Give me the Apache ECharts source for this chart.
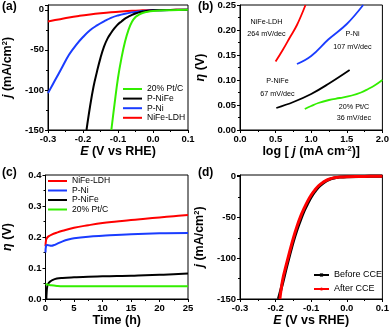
<!DOCTYPE html>
<html>
<head>
<meta charset="utf-8">
<script src="https://cdn.jsdelivr.net/npm/echarts@6/dist/echarts.min.js"></script>
<style>
  html, body { margin: 0; padding: 0; background: #fff; }
  #chart { width: 392px; height: 332px; }
</style>
</head>
<body>
<div id="chart"></div>
<script>
// (a) HER polarization curves, E (V vs RHE) / j (mA/cm2)
const ldhE = [-0.30, -0.27, -0.24, -0.21, -0.18, -0.15, -0.12, -0.09, -0.06, -0.03, 0.0, 0.05, 0.1]
const ldhJ = [-14.5, -12, -9.5, -7.5, -5.8, -4.3, -3.0, -2.0, -1.2, -0.7, -0.3, -0.1, 0]
const niE = [-0.30, -0.28, -0.26, -0.24, -0.22, -0.20, -0.18, -0.16, -0.14, -0.12, -0.10, -0.08, -0.06, -0.04, -0.02, 0.0, 0.05, 0.1]
const niJ = [-104, -88, -72, -56, -44, -34, -25.5, -19.5, -14.5, -10, -7, -4.8, -3.2, -2, -1.2, -0.7, -0.2, 0]
const nifeE = [-0.19, -0.18, -0.17, -0.16, -0.15, -0.14, -0.13, -0.12, -0.11, -0.10, -0.09, -0.08, -0.07, -0.06, -0.05, -0.04, -0.03, -0.02, 0.0, 0.05, 0.1]
const nifeJ = [-150, -121, -96, -77, -60, -46, -36, -29, -23, -18, -14.5, -11, -8.5, -6.3, -4.6, -3.2, -2.2, -1.4, -0.6, -0.1, 0]
const ptcE = [-0.119, -0.11, -0.10, -0.09, -0.08, -0.07, -0.06, -0.05, -0.04, -0.03, -0.02, 0.0, 0.05, 0.1]
const ptcJ = [-150, -118, -85, -60, -40, -25, -15, -9, -6, -4, -2.8, -1.5, -0.5, 0]

// (b) Tafel plots, log j / eta (V)
const tafLdhX = [0.5, 0.6, 0.7, 0.8, 0.92]
const tafLdhY = [0.137, 0.16, 0.185, 0.21, 0.25]
const tafNiX = [0.8, 1.0, 1.24, 1.5, 1.73]
const tafNiY = [0.132, 0.148, 0.181, 0.212, 0.25]
const tafNifeX = [0.51, 0.75, 1.0, 1.25, 1.54]
const tafNifeY = [0.044, 0.056, 0.072, 0.093, 0.12]
const tafPtcX = [0.91, 1.0, 1.1, 1.25, 1.4, 1.57, 1.7, 1.8, 1.9, 2.0]
const tafPtcY = [0.042, 0.048, 0.054, 0.06, 0.064, 0.069, 0.075, 0.082, 0.09, 0.10]
const tafNotes = [
  ['NiFe-LDH', '264 mV/dec'],
  ['P-Ni', '107 mV/dec'],
  ['P-NiFe', '67 mV/dec'],
  ['20% Pt/C', '36 mV/dec']
]

// (c) stability, time (h) / eta (V)
const stLdhT = [0, 0.1, 0.3, 0.6, 1, 2, 3, 5, 7.5, 10, 12.5, 15, 17.5, 20, 22.5, 25]
const stLdhV = [0.17, 0.19, 0.198, 0.203, 0.207, 0.214, 0.22, 0.23, 0.238, 0.245, 0.25, 0.255, 0.259, 0.263, 0.267, 0.271]
const stNiT = [0, 0.1, 0.3, 0.6, 1, 1.5, 2, 3, 4, 5, 7.5, 10, 15, 20, 25]
const stNiV = [0.15, 0.172, 0.174, 0.173, 0.172, 0.174, 0.178, 0.186, 0.192, 0.196, 0.201, 0.204, 0.209, 0.212, 0.213]
const stNifeT = [0.15, 0.2, 0.3, 0.5, 0.8, 1.2, 2, 3, 5, 7.5, 10, 12.5, 15, 17.5, 20, 22.5, 25]
const stNifeV = [0, 0.02, 0.04, 0.05, 0.056, 0.061, 0.066, 0.068, 0.07, 0.072, 0.073, 0.074, 0.075, 0.077, 0.078, 0.08, 0.082]
const stPtcT = [0, 0.5, 1, 2, 3, 5, 10, 15, 20, 25]
const stPtcV = [0.048, 0.046, 0.044, 0.042, 0.041, 0.041, 0.041, 0.041, 0.041, 0.041]

// (d) before / after CCE
const beforeE = [-0.192, -0.18, -0.17, -0.16, -0.15, -0.14, -0.13, -0.12, -0.11, -0.10, -0.09, -0.08, -0.07, -0.06, -0.05, -0.04, -0.03, -0.02, 0.0, 0.05, 0.1]
const beforeJ = [-150, -130, -112, -95, -79, -65, -53, -42, -33, -25, -18.5, -13, -9, -6, -3.8, -2.2, -1.2, -0.6, -0.1, 0.3, 0.6]
const afterE = [-0.188, -0.18, -0.17, -0.16, -0.15, -0.14, -0.13, -0.12, -0.11, -0.10, -0.09, -0.08, -0.07, -0.06, -0.05, -0.04, -0.03, -0.02, 0.0, 0.05, 0.1]
const afterJ = [-150, -126, -108, -91, -75, -61, -49, -39, -30, -22.5, -16.5, -11.5, -8, -5.2, -3.2, -1.8, -1, -0.5, -0.1, 0.3, 0.6]

const FONT = 'Liberation Sans, Arial, sans-serif'
const RED = '#ff0000'
const BLUE = '#1a3cff'
const BLACK = '#000000'
const GREEN = '#33ee00'

const zip = (xs, ys) => xs.map((x, i) => [x, ys[i]])

const nameStyle = {
  fontFamily: FONT,
  fontWeight: 'bold',
  fontSize: 12.5,
  color: '#000',
  rich: {
    n: { fontFamily: FONT, fontWeight: 'bold', fontSize: 12.5, color: '#000', lineHeight: 14 },
    i: { fontFamily: FONT, fontWeight: 'bold', fontStyle: 'italic', fontSize: 12.5, color: '#000', lineHeight: 14 },
    s: { fontFamily: FONT, fontWeight: 'bold', fontSize: 7.5, color: '#000', lineHeight: 14, verticalAlign: 'top', padding: [0, 0, 5, 0] }
  }
}

function axis (gridIndex, min, max, interval, fmt, name, nameGap) {
  return {
    type: 'value',
    gridIndex,
    min,
    max,
    interval,
    name,
    nameLocation: 'middle',
    nameGap,
    nameTextStyle: nameStyle,
    axisLine: { show: true, onZero: false, lineStyle: { color: '#000', width: 1 } },
    axisTick: { show: true, inside: false, length: 3, lineStyle: { color: '#000' } },
    minorTick: { show: true, splitNumber: 2, length: 2, lineStyle: { color: '#000' } },
    splitLine: { show: false },
    axisLabel: {
      fontFamily: FONT,
      fontWeight: 'bold',
      fontSize: 9.5,
      color: '#000',
      margin: 4,
      formatter: fmt
    }
  }
}

const jFmt = v => (Math.abs(v % 50) < 1e-6 ? String(v) : '')
const f1 = v => v.toFixed(1)
const f2 = v => v.toFixed(2)

function line (name, xi, yi, data, color, width) {
  return {
    name,
    type: 'line',
    xAxisIndex: xi,
    yAxisIndex: yi,
    data,
    smooth: 0.4,
    showSymbol: false,
    symbol: 'none',
    lineStyle: { color, width },
    itemStyle: { color },
    clip: true,
    animation: false
  }
}

const chart = echarts.init(document.getElementById('chart'), null, { renderer: 'canvas' })

const grids = [
  { left: 44, top: 5, width: 144, height: 125 },
  { left: 240, top: 5, width: 143.5, height: 125 },
  { left: 44, top: 175, width: 144, height: 124 },
  { left: 240, top: 175, width: 143.5, height: 124 }
].map(g => Object.assign({ show: true, borderColor: '#000', borderWidth: 1, backgroundColor: 'transparent' }, g))

// note centres in panel (b): [x, y of name, y of slope]
const notePos = [[266.5, 22.5, 34], [352.5, 34, 47.5], [277.5, 81.5, 94], [354, 107.5, 118.5]]
const noteTexts = []
tafNotes.forEach((n, k) => {
  const p = notePos[k]
  noteTexts.push({ type: 'text', x: p[0], y: p[1], style: { text: n[0], font: '7.2px ' + FONT, fill: '#000', textAlign: 'center', textVerticalAlign: 'middle' } })
  noteTexts.push({ type: 'text', x: p[0], y: p[2], style: { text: n[1], font: '7.2px ' + FONT, fill: '#000', textAlign: 'center', textVerticalAlign: 'middle' } })
})

const panelLabel = (t, x, y) => ({ type: 'text', x, y, style: { text: t, font: 'bold 12px ' + FONT, fill: '#000', textVerticalAlign: 'middle' } })

chart.setOption({
  animation: false,
  grid: grids,
  xAxis: [
    axis(0, -0.3, 0.1, 0.1, f1, '{i|E}{n| (V vs RHE)}', 12),
    axis(1, 0, 2, 0.5, f1, '{n|log [ }{i|j}{n| (mA cm}{s|-2}{n|)]}', 12),
    axis(2, 0, 25, 5, v => String(v), '{n|Time (h)}', 12),
    axis(3, -0.3, 0.1, 0.1, f1, '{i|E}{n| (V vs RHE)}', 13)
  ],
  yAxis: [
    axis(0, -150, 6, 50, jFmt, '{i|j}{n| (mA/cm}{s|2}{n|)}', 33),
    axis(1, 0, 0.25, 0.05, f2, '{i|η}{n| (V)}', 32),
    axis(2, 0, 0.4, 0.1, f1, '{i|η}{n| (V)}', 31),
    axis(3, -150, 2, 50, jFmt, '{i|j}{n| (mA/cm}{s|2}{n|)}', 33)
  ],
  legend: [
    {
      data: ['20% Pt/C', 'P-NiFe', 'P-Ni', 'NiFe-LDH'],
      orient: 'vertical', left: 123, top: 84.5, padding: 0,
      icon: 'rect', itemWidth: 19, itemHeight: 2, itemGap: 0.6,
      textStyle: { fontFamily: FONT, fontSize: 8.6, lineHeight: 9, color: '#000' }
    },
    {
      data: ['NiFe-LDH', 'P-Ni', 'P-NiFe', '20% Pt/C'],
      orient: 'vertical', left: 48, top: 176.5, padding: 0,
      icon: 'rect', itemWidth: 19, itemHeight: 2, itemGap: 0.5,
      textStyle: { fontFamily: FONT, fontSize: 8.6, lineHeight: 9, color: '#000' }
    },
    {
      data: ['Before CCE', 'After CCE'],
      orient: 'vertical', left: 313, top: 270, padding: 0,
      itemWidth: 15, itemHeight: 4, itemGap: 4,
      textStyle: { fontFamily: FONT, fontSize: 9, lineHeight: 10, color: '#000' }
    }
  ],
  graphic: [
    panelLabel('(a)', 2, 7),
    panelLabel('(b)', 198, 7),
    panelLabel('(c)', 2, 173),
    panelLabel('(d)', 198, 173)
  ].concat(noteTexts),
  series: [
    line('NiFe-LDH', 0, 0, zip(ldhE, ldhJ), RED, 2),
    line('P-Ni', 0, 0, zip(niE, niJ), BLUE, 2),
    line('P-NiFe', 0, 0, zip(nifeE, nifeJ), BLACK, 2),
    line('20% Pt/C', 0, 0, zip(ptcE, ptcJ), GREEN, 2),

    line('NiFe-LDH', 1, 1, zip(tafLdhX, tafLdhY), RED, 1.8),
    line('P-Ni', 1, 1, zip(tafNiX, tafNiY), BLUE, 1.8),
    line('P-NiFe', 1, 1, zip(tafNifeX, tafNifeY), BLACK, 1.8),
    line('20% Pt/C', 1, 1, zip(tafPtcX, tafPtcY), GREEN, 1.8),

    line('NiFe-LDH', 2, 2, zip(stLdhT, stLdhV), RED, 2),
    line('P-Ni', 2, 2, zip(stNiT, stNiV), BLUE, 2),
    line('P-NiFe', 2, 2, zip(stNifeT, stNifeV), BLACK, 2),
    line('20% Pt/C', 2, 2, zip(stPtcT, stPtcV), GREEN, 2),

    Object.assign(line('Before CCE', 3, 3, zip(beforeE, beforeJ), BLACK, 3), { symbol: 'rect', symbolSize: 4 }),
    Object.assign(line('After CCE', 3, 3, zip(afterE, afterJ), RED, 3), { symbol: 'circle', symbolSize: 4 })
  ]
})
</script>
</body>
</html>
